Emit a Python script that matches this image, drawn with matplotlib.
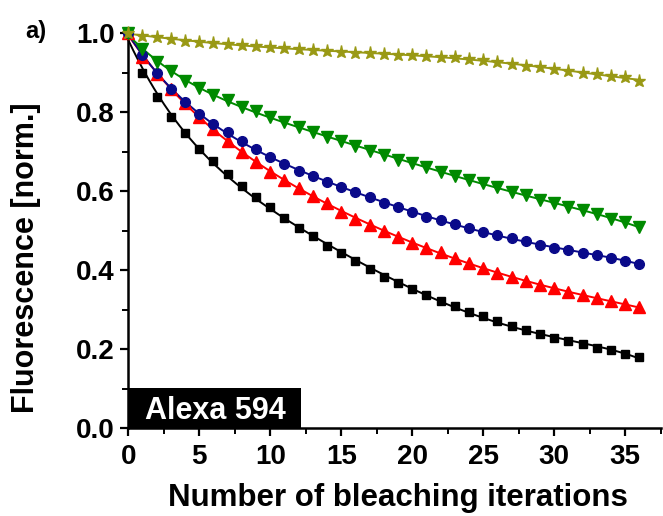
import numpy as np
import matplotlib
matplotlib.use('Agg')
import matplotlib.pyplot as plt
from matplotlib.patches import Rectangle
from matplotlib.ticker import MultipleLocator

# iterations 0..36
iterations = np.arange(0, 37)

black_sq = [1.000, 0.900, 0.838, 0.787, 0.747, 0.708, 0.676, 0.643, 0.614, 0.586,
            0.559, 0.532, 0.508, 0.486, 0.462, 0.443, 0.424, 0.403, 0.384, 0.369,
            0.352, 0.337, 0.322, 0.310, 0.294, 0.283, 0.272, 0.260, 0.249, 0.238,
            0.229, 0.221, 0.213, 0.204, 0.198, 0.188, 0.181]
red_tri = [1.000, 0.941, 0.897, 0.858, 0.823, 0.789, 0.757, 0.728, 0.700, 0.674,
           0.650, 0.629, 0.609, 0.588, 0.570, 0.548, 0.530, 0.515, 0.500, 0.485,
           0.470, 0.456, 0.446, 0.430, 0.418, 0.405, 0.394, 0.384, 0.373, 0.363,
           0.354, 0.346, 0.337, 0.329, 0.321, 0.314, 0.306]
blue_circ = [1.000, 0.945, 0.899, 0.858, 0.826, 0.795, 0.770, 0.749, 0.728, 0.706,
             0.688, 0.669, 0.652, 0.639, 0.624, 0.610, 0.597, 0.585, 0.571, 0.559,
             0.548, 0.536, 0.527, 0.517, 0.506, 0.498, 0.489, 0.481, 0.474, 0.464,
             0.456, 0.451, 0.445, 0.439, 0.430, 0.424, 0.417]
green_tri = [1.000, 0.959, 0.928, 0.905, 0.879, 0.862, 0.844, 0.831, 0.814, 0.802,
             0.787, 0.776, 0.762, 0.749, 0.738, 0.727, 0.715, 0.703, 0.692, 0.679,
             0.671, 0.661, 0.650, 0.639, 0.629, 0.620, 0.612, 0.599, 0.591, 0.578,
             0.570, 0.559, 0.553, 0.542, 0.529, 0.522, 0.510]
olive_star = [1.000, 0.994, 0.990, 0.986, 0.981, 0.977, 0.975, 0.973, 0.970, 0.969,
              0.966, 0.962, 0.959, 0.958, 0.955, 0.953, 0.951, 0.949, 0.947, 0.944,
              0.945, 0.943, 0.941, 0.939, 0.935, 0.932, 0.927, 0.922, 0.917, 0.914,
              0.909, 0.905, 0.900, 0.897, 0.892, 0.889, 0.880]

plt.rcParams['font.family'] = ['Liberation Sans', 'DejaVu Sans']
plt.rcParams['font.weight'] = 'bold'

fig = plt.figure(figsize=(6.63, 5.16), dpi=100)
ax = fig.add_axes([0.1935, 0.170, 0.803, 0.7655])

series = [
    (black_sq, 's', '#000000', 5.5),
    (red_tri, '^', '#ff0000', 8.0),
    (blue_circ, 'o', '#0a0a8a', 7.0),
    (green_tri, 'v', '#008a00', 8.0),
    (olive_star, '*', '#999915', 9.5),
]

x_fit = np.linspace(0, 36, 300)
for vals, mk, col, ms in series:
    # smooth fit curve drawn through the data
    coef = np.polyfit(iterations, vals, 5)
    ax.plot(x_fit, np.polyval(coef, x_fit), '-', color=col, lw=1.4, clip_on=False, zorder=2)
    ax.plot(iterations, vals, linestyle='none', marker=mk, color=col, ms=ms,
            mec=col, clip_on=False, zorder=3)

ax.set_xlim(0, 37.5)
ax.set_ylim(0, 1.0)
ax.xaxis.set_major_locator(MultipleLocator(5))
ax.xaxis.set_minor_locator(MultipleLocator(2.5))
ax.yaxis.set_minor_locator(MultipleLocator(0.1))
ax.set_yticks([0.0, 0.2, 0.4, 0.6, 0.8, 1.0])
ax.set_yticklabels(['0.0', '0.2', '0.4', '0.6', '0.8', '1.0'])
ax.tick_params(which='major', direction='out', length=6, width=1.6, labelsize=20)
ax.tick_params(axis='y', which='major', pad=4)
ax.tick_params(axis='x', which='major', pad=5)
ax.tick_params(which='minor', direction='out', length=4, width=1.4)

for s in ['top', 'right']:
    ax.spines[s].set_visible(False)
for s in ['left', 'bottom']:
    ax.spines[s].set_linewidth(1.8)

ax.set_xlabel('Number of bleaching iterations', fontsize=22.5, fontweight='bold', va='center')
ax.xaxis.set_label_coords(0.506, -0.176)
ax.set_ylabel('Fluorescence [norm.]', fontsize=22, fontweight='bold', va='center')
ax.yaxis.set_label_coords(-0.192, 0.432)

ax.add_patch(Rectangle((0, 0), 12.2, 0.103, facecolor='black', edgecolor='none', zorder=4))
ax.text(6.1, 0.043, 'Alexa 594', color='white', fontsize=22, fontweight='bold',
        ha='center', va='center', zorder=5)

fig.text(0.054, 0.938, 'a)', fontsize=17, fontweight='bold', ha='center', va='center')

fig.savefig('out.png', dpi=100)
